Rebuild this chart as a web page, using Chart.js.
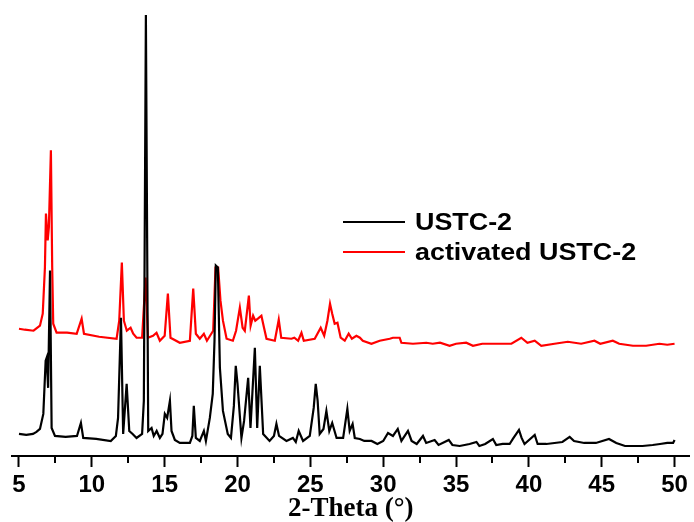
<!DOCTYPE html>
<html>
<head>
<meta charset="utf-8">
<script src="https://cdn.jsdelivr.net/npm/chart.js@4/dist/chart.umd.min.js"></script>
<style>
html,body{margin:0;padding:0;background:#fff;}
#wrap{width:694px;height:522px;position:relative;}
</style>
</head>
<body>
<div id="wrap"><canvas id="c" width="694" height="522"></canvas></div>
<script>
// ---- data ----
const seriesNames = ["USTC-2", "activated USTC-2"];
const xTickValues = [5, 10, 15, 20, 25, 30, 35, 40, 45, 50];
const xMinorTickValues = [7.5, 12.5, 17.5, 22.5, 27.5, 32.5, 37.5, 42.5, 47.5];

const ustcTheta = [5.00,5.50,5.96,6.20,6.44,6.67,6.83,6.90,7.00,7.13,7.24,7.47,8.20,8.98,9.25,9.41,10.30,11.30,11.65,11.80,12.00,12.15,12.39,12.57,12.80,13.07,13.45,13.57,13.71,13.87,14.10,14.25,14.45,14.67,14.85,15.01,15.17,15.36,15.47,15.70,16.04,16.73,16.90,17.00,17.14,17.41,17.69,17.83,18.10,18.30,18.42,18.51,18.65,18.79,19.00,19.33,19.55,19.75,19.88,20.00,20.27,20.45,20.73,20.89,21.19,21.35,21.53,21.76,22.20,22.50,22.67,22.85,23.36,23.80,24.00,24.20,24.50,24.96,25.23,25.37,25.50,25.64,25.90,26.10,26.30,26.50,26.80,27.25,27.54,27.70,27.90,28.05,28.40,28.70,29.20,29.60,30.00,30.33,30.67,31.00,31.25,31.70,31.95,32.30,32.73,32.95,33.53,33.80,34.50,34.75,35.25,35.93,36.40,36.60,37.00,37.53,37.76,38.20,38.68,38.90,39.32,39.50,39.70,40.40,40.60,41.20,41.76,42.30,42.80,43.10,43.80,44.60,45.50,46.00,46.60,47.10,47.80,48.50,49.00,49.50,49.90,50.00];
const ustcIntensity = [22,21,22,24,27,42,95,98,68,185,28,20,19,20,33,18,17,15,20,38,138,22,72,25,22,18,22,55,440,25,28,20,25,18,22,42,38,55,25,16,13,13,20,50,18,15,25,15,38,62,115,190,188,88,45,22,18,50,90,72,18,35,78,28,108,28,90,22,15,20,32,20,15,18,14,25,15,20,48,72,55,22,27,45,25,33,18,18,47,25,32,18,17,15,15,12,15,23,20,27,15,25,15,12,20,13,16,11,16,11,10,12,14,10,12,17,11,12,12,17,26,18,12,21,12,12,13,14,19,15,13,13,17,13,10,10,10,11,12,13,13,16];

const activatedTheta = [5.00,5.40,6.00,6.44,6.63,6.78,6.85,6.97,7.05,7.19,7.28,7.35,7.58,8.30,8.96,9.30,9.46,10.50,11.70,11.88,12.06,12.20,12.40,12.66,12.84,13.07,13.45,13.69,13.85,14.20,14.44,14.67,15.00,15.22,15.40,16.04,16.73,16.96,17.14,17.41,17.69,17.90,18.33,18.49,18.67,18.83,19.00,19.25,19.68,19.90,20.16,20.35,20.50,20.78,20.90,21.07,21.22,21.40,21.64,21.82,21.99,22.56,22.83,23.00,23.70,23.90,24.16,24.39,24.55,25.30,25.71,25.95,26.17,26.35,26.50,26.67,26.86,27.08,27.36,27.63,27.85,28.16,28.40,28.60,29.19,29.76,30.45,30.67,31.13,31.25,32.04,32.96,33.40,33.90,34.56,35.00,35.70,36.16,36.80,37.60,38.80,39.48,39.90,40.40,40.85,41.76,42.67,43.59,44.50,44.90,45.76,46.20,47.14,48.05,48.96,49.50,50.00];
const activatedIntensity = [127,126,125,130,142,188,242,215,228,305,188,132,123,123,122,137,122,119,117,135,193,135,125,128,122,118,118,178,118,120,123,115,120,162,118,113,115,167,122,117,122,115,125,188,188,155,135,117,115,125,148,128,125,160,130,140,135,137,140,128,117,115,136,118,117,118,115,123,115,117,128,120,135,152,142,132,133,118,115,122,117,120,118,115,112,115,117,118,118,113,112,113,112,113,110,112,113,110,112,112,112,118,113,115,110,112,114,112,115,112,115,112,110,110,112,111,112];

const seriesColors = ["#000000", "#ff0000"];

function toPoints(xs, ys) { return xs.map((x, i) => ({ x: x, y: ys[i] })); }

const minorTicksPlugin = {
  id: 'minorTicks',
  afterDraw(chart) {
    const sc = chart.scales.x;
    const ctx = chart.ctx;
    ctx.save();
    ctx.strokeStyle = '#000';
    ctx.lineWidth = 2;
    xMinorTickValues.forEach(v => {
      const px = Math.round(sc.getPixelForValue(v));
      ctx.beginPath();
      ctx.moveTo(px, sc.top);
      ctx.lineTo(px, sc.top + 7);
      ctx.stroke();
    });
    ctx.restore();
  }
};

const legendPlugin = {
  id: 'customLegend',
  afterDraw(chart) {
    const ctx = chart.ctx;
    ctx.save();
    const x0 = 343, x1 = 405, tx = 415;
    const ys = [222, 252];
    seriesNames.forEach((name, i) => {
      ctx.strokeStyle = seriesColors[i];
      ctx.lineWidth = 2;
      ctx.beginPath();
      ctx.moveTo(x0, ys[i]);
      ctx.lineTo(x1, ys[i]);
      ctx.stroke();
      ctx.save();
      ctx.translate(tx, ys[i]);
      ctx.scale(1.12, 1);
      ctx.fillStyle = '#000';
      ctx.font = 'bold 24px "Liberation Sans", Arial, sans-serif';
      ctx.textBaseline = 'middle';
      ctx.textAlign = 'left';
      ctx.fillText(name, 0, 1);
      ctx.restore();
    });
    ctx.restore();
  }
};

new Chart(document.getElementById('c'), {
  type: 'line',
  data: {
    datasets: [
      { label: seriesNames[0], data: toPoints(ustcTheta, ustcIntensity), borderColor: seriesColors[0], borderWidth: 2.2, pointRadius: 0, tension: 0, fill: false },
      { label: seriesNames[1], data: toPoints(activatedTheta, activatedIntensity), borderColor: seriesColors[1], borderWidth: 2.2, pointRadius: 0, tension: 0, fill: false }
    ]
  },
  options: {
    responsive: false,
    animation: false,
    devicePixelRatio: 1,
    layout: { padding: { left: 12, right: 4, top: 10, bottom: 0 } },
    plugins: { legend: { display: false }, tooltip: { enabled: false } },
    scales: {
      x: {
        type: 'linear',
        min: 4.52,
        max: 51.03,
        afterBuildTicks: (axis) => { axis.ticks = xTickValues.map(v => ({ value: v })); },
        grid: { drawOnChartArea: false, drawTicks: true, tickLength: 11, tickWidth: 2, tickColor: '#000' },
        border: { display: true, color: '#000', width: 2 },
        ticks: {
          color: '#000',
          padding: 6,
          maxRotation: 0,
          autoSkip: false,
          font: { family: '"Liberation Sans", Arial, sans-serif', size: 24, weight: 'bold', lineHeight: 1 },
          callback: (v) => String(v)
        },
        title: {
          display: true,
          text: '2-Theta (°)',
          color: '#000',
          padding: { top: -7, bottom: -1 },
          font: { family: '"Liberation Serif", "Times New Roman", serif', size: 27, weight: 'bold', lineHeight: 1 }
        }
      },
      y: { display: false, min: 0, max: 445 }
    }
  },
  plugins: [minorTicksPlugin, legendPlugin]
});
</script>
</body>
</html>
